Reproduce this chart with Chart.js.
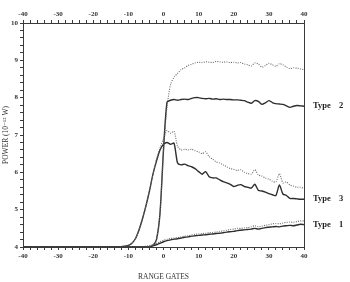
<!DOCTYPE html>
<html>
<head>
<meta charset="utf-8">
<script src="https://cdn.jsdelivr.net/npm/chart.js@4"></script>
<style>
  html, body { margin: 0; padding: 0; background: #fff; }
  #wrap { width: 350px; height: 282px; }
</style>
</head>
<body>
<div id="wrap"><canvas id="myChart" width="350" height="282"></canvas></div>
<script>
// range gates -40 .. 40
const gates = [
  -40,-39,-38,-37,-36,-35,-34,-33,-32,-31,-30,-29,-28,-27,-26,-25,-24,-23,-22,-21,
  -20,-19,-18,-17,-16,-15,-14,-13,-12,-11,-10,-9,-8,-7,-6,-5,-4,-3,-2,-1,
  0,1,2,3,4,5,6,7,8,9,10,11,12,13,14,15,16,17,18,19,
  20,21,22,23,24,25,26,27,28,29,30,31,32,33,34,35,36,37,38,39,40
];

const type2Dotted = [
  4,4,4,4,4,4,4,4,4,4,4,4,4,4,4,4,4,4,4,4,
  4,4,4,4,4,4,4,4,4,4,4,4,4,4,4,4,4.01,4.04,4.2,4.9,
  6.6,7.75,8.35,8.55,8.65,8.75,8.8,8.86,8.9,8.93,8.95,8.94,8.96,8.95,8.94,8.97,8.96,8.95,8.96,8.94,
  8.95,8.93,8.94,8.9,8.88,8.85,8.93,8.9,8.82,8.86,8.92,8.88,8.84,8.91,8.88,8.82,8.78,8.8,8.79,8.77,8.75
];
const type2Solid = [
  4,4,4,4,4,4,4,4,4,4,4,4,4,4,4,4,4,4,4,4,
  4,4,4,4,4,4,4,4,4,4,4,4,4,4,4,4,4.01,4.04,4.2,4.9,
  6.6,7.88,7.93,7.95,7.93,7.95,7.96,7.95,7.98,8.0,8.0,7.98,7.97,7.98,7.96,7.97,7.95,7.96,7.95,7.95,
  7.94,7.94,7.93,7.92,7.88,7.85,7.92,7.9,7.82,7.86,7.92,7.87,7.84,7.83,7.82,7.78,7.74,7.77,7.79,7.78,7.77
];
const type3Dotted = [
  4,4,4,4,4,4,4,4,4,4,4,4,4,4,4,4,4,4,4,4,
  4,4,4,4,4,4,4,4,4.01,4.02,4.04,4.1,4.22,4.45,4.75,5.1,5.5,5.95,6.35,6.65,
  6.9,7.12,7.05,7.1,6.7,6.6,6.62,6.6,6.62,6.58,6.55,6.5,6.55,6.42,6.35,6.28,6.25,6.2,6.15,6.1,
  6.08,6.05,6.07,6.0,5.97,5.95,6.07,5.93,5.9,5.85,5.82,5.76,5.74,5.96,5.72,5.74,5.66,5.63,5.6,5.6,5.57
];
const type3Solid = [
  4,4,4,4,4,4,4,4,4,4,4,4,4,4,4,4,4,4,4,4,
  4,4,4,4,4,4,4,4,4.01,4.02,4.04,4.1,4.22,4.45,4.75,5.1,5.5,5.95,6.3,6.6,
  6.75,6.8,6.75,6.78,6.25,6.2,6.22,6.18,6.15,6.1,6.02,5.95,6.02,5.88,5.85,5.85,5.8,5.75,5.72,5.68,
  5.62,5.65,5.67,5.62,5.6,5.58,5.68,5.52,5.5,5.47,5.43,5.4,5.38,5.66,5.42,5.38,5.3,5.3,5.29,5.28,5.28
];
const type1Dotted = [
  4,4,4,4,4,4,4,4,4,4,4,4,4,4,4,4,4,4,4,4,
  4,4,4,4,4,4,4,4,4,4,4,4,4,4,4.01,4.02,4.04,4.07,4.1,4.14,
  4.18,4.21,4.23,4.24,4.25,4.27,4.29,4.3,4.32,4.34,4.35,4.36,4.37,4.38,4.39,4.4,4.42,4.43,4.45,4.47,
  4.48,4.5,4.5,4.51,4.52,4.54,4.57,4.54,4.56,4.58,4.6,4.62,4.63,4.62,4.64,4.66,4.67,4.66,4.68,4.7,4.7
];
const type1Solid = [
  4,4,4,4,4,4,4,4,4,4,4,4,4,4,4,4,4,4,4,4,
  4,4,4,4,4,4,4,4,4,4,4,4,4,4,4,4,4.01,4.03,4.06,4.1,
  4.14,4.17,4.19,4.21,4.22,4.24,4.26,4.27,4.29,4.3,4.31,4.32,4.33,4.34,4.35,4.36,4.37,4.38,4.4,4.41,
  4.42,4.44,4.45,4.46,4.47,4.48,4.5,4.48,4.5,4.52,4.53,4.54,4.55,4.54,4.56,4.57,4.58,4.57,4.59,4.61,4.6
];

const typeLabels = ['Type 2', 'Type 3', 'Type 1'];

const ink = '#3a3a3a';
const serif = "'Liberation Serif', 'DejaVu Serif', serif";

function pts(vals) {
  return gates.map((g, i) => ({ x: g, y: vals[i] }));
}
function line(label, vals, dotted) {
  return {
    label: label,
    data: pts(vals),
    borderColor: dotted ? '#6a6a6a' : '#2e2e2e',
    borderWidth: dotted ? 1.1 : 1.4,
    borderDash: dotted ? [1, 1.3] : [],
    pointRadius: 0,
    tension: 0.25,
    fill: false
  };
}

// frame round the plot and the type names at the right end of each solid curve
const extras = {
  id: 'extras',
  afterDraw(chart) {
    const c = chart.ctx, a = chart.chartArea, y = chart.scales.y;
    c.save();
    c.strokeStyle = ink;
    c.lineWidth = 1;
    c.strokeRect(Math.round(a.left) + 0.5, Math.round(a.top) + 0.5,
      Math.round(a.right - a.left), Math.round(a.bottom - a.top));
    c.fillStyle = '#222';
    c.font = 'bold 8.5px ' + serif;
    c.textBaseline = 'middle';
    const ends = [type2Solid, type3Solid, type1Solid];
    ends.forEach((s, i) => {
      const [word, num] = typeLabels[i].split(' ');
      const py = y.getPixelForValue(s[s.length - 1]);
      c.fillText(word, a.right + 9, py);
      c.fillText(num, a.right + 35, py);
    });
    c.restore();
  }
};

const tickFont = { family: serif, size: 7, weight: 'bold' };
function xLabel(v) {
  return v % 10 === 0 ? String(v) : '';
}

new Chart(document.getElementById('myChart'), {
  type: 'line',
  data: {
    datasets: [
      line('Type 2 dotted', type2Dotted, true),
      line('Type 2', type2Solid, false),
      line('Type 3 dotted', type3Dotted, true),
      line('Type 3', type3Solid, false),
      line('Type 1 dotted', type1Dotted, true),
      line('Type 1', type1Solid, false)
    ]
  },
  options: {
    responsive: false,
    animation: false,
    events: [],
    layout: { padding: { left: 0, top: 0, right: 46, bottom: 0 } },
    scales: {
      x: {
        type: 'linear',
        position: 'bottom',
        min: -40, max: 40,
        afterFit(s) { s.height = 35; },
        border: { display: false },
        grid: { drawOnChartArea: false, drawTicks: true, tickLength: 3, color: ink },
        ticks: { stepSize: 2, autoSkip: false, maxRotation: 0, padding: 2, color: '#333', font: tickFont, callback: xLabel },
        title: { display: true, text: 'RANGE GATES', color: '#333', font: { family: serif, size: 7.5 }, padding: { top: 4, bottom: 0 } }
      },
      x2: {
        type: 'linear',
        position: 'top',
        min: -40, max: 40,
        afterFit(s) { s.height = 23; },
        border: { display: false },
        grid: { drawOnChartArea: false, drawTicks: true, tickLength: 3, color: ink },
        ticks: { stepSize: 2, autoSkip: false, maxRotation: 0, padding: 2, color: '#333', font: tickFont, callback: xLabel }
      },
      y: {
        position: 'left',
        min: 4, max: 10,
        afterFit(s) { s.width = 23; },
        border: { display: false },
        grid: { drawOnChartArea: false, drawTicks: true, tickLength: 3, color: ink },
        ticks: {
          stepSize: 0.2, autoSkip: false, padding: 2, color: '#333', font: tickFont,
          callback: v => Math.abs(v - Math.round(v)) < 1e-6 ? String(Math.round(v)) : ''
        },
        title: { display: true, text: 'POWER (10\u207B\u00B9\u00B2 W)', color: '#333', font: { family: serif, size: 7.5 }, padding: { top: 2, bottom: 0 } }
      }
    },
    plugins: {
      legend: { display: false },
      tooltip: { enabled: false },
      title: { display: false }
    }
  },
  plugins: [extras]
});
</script>
</body>
</html>
